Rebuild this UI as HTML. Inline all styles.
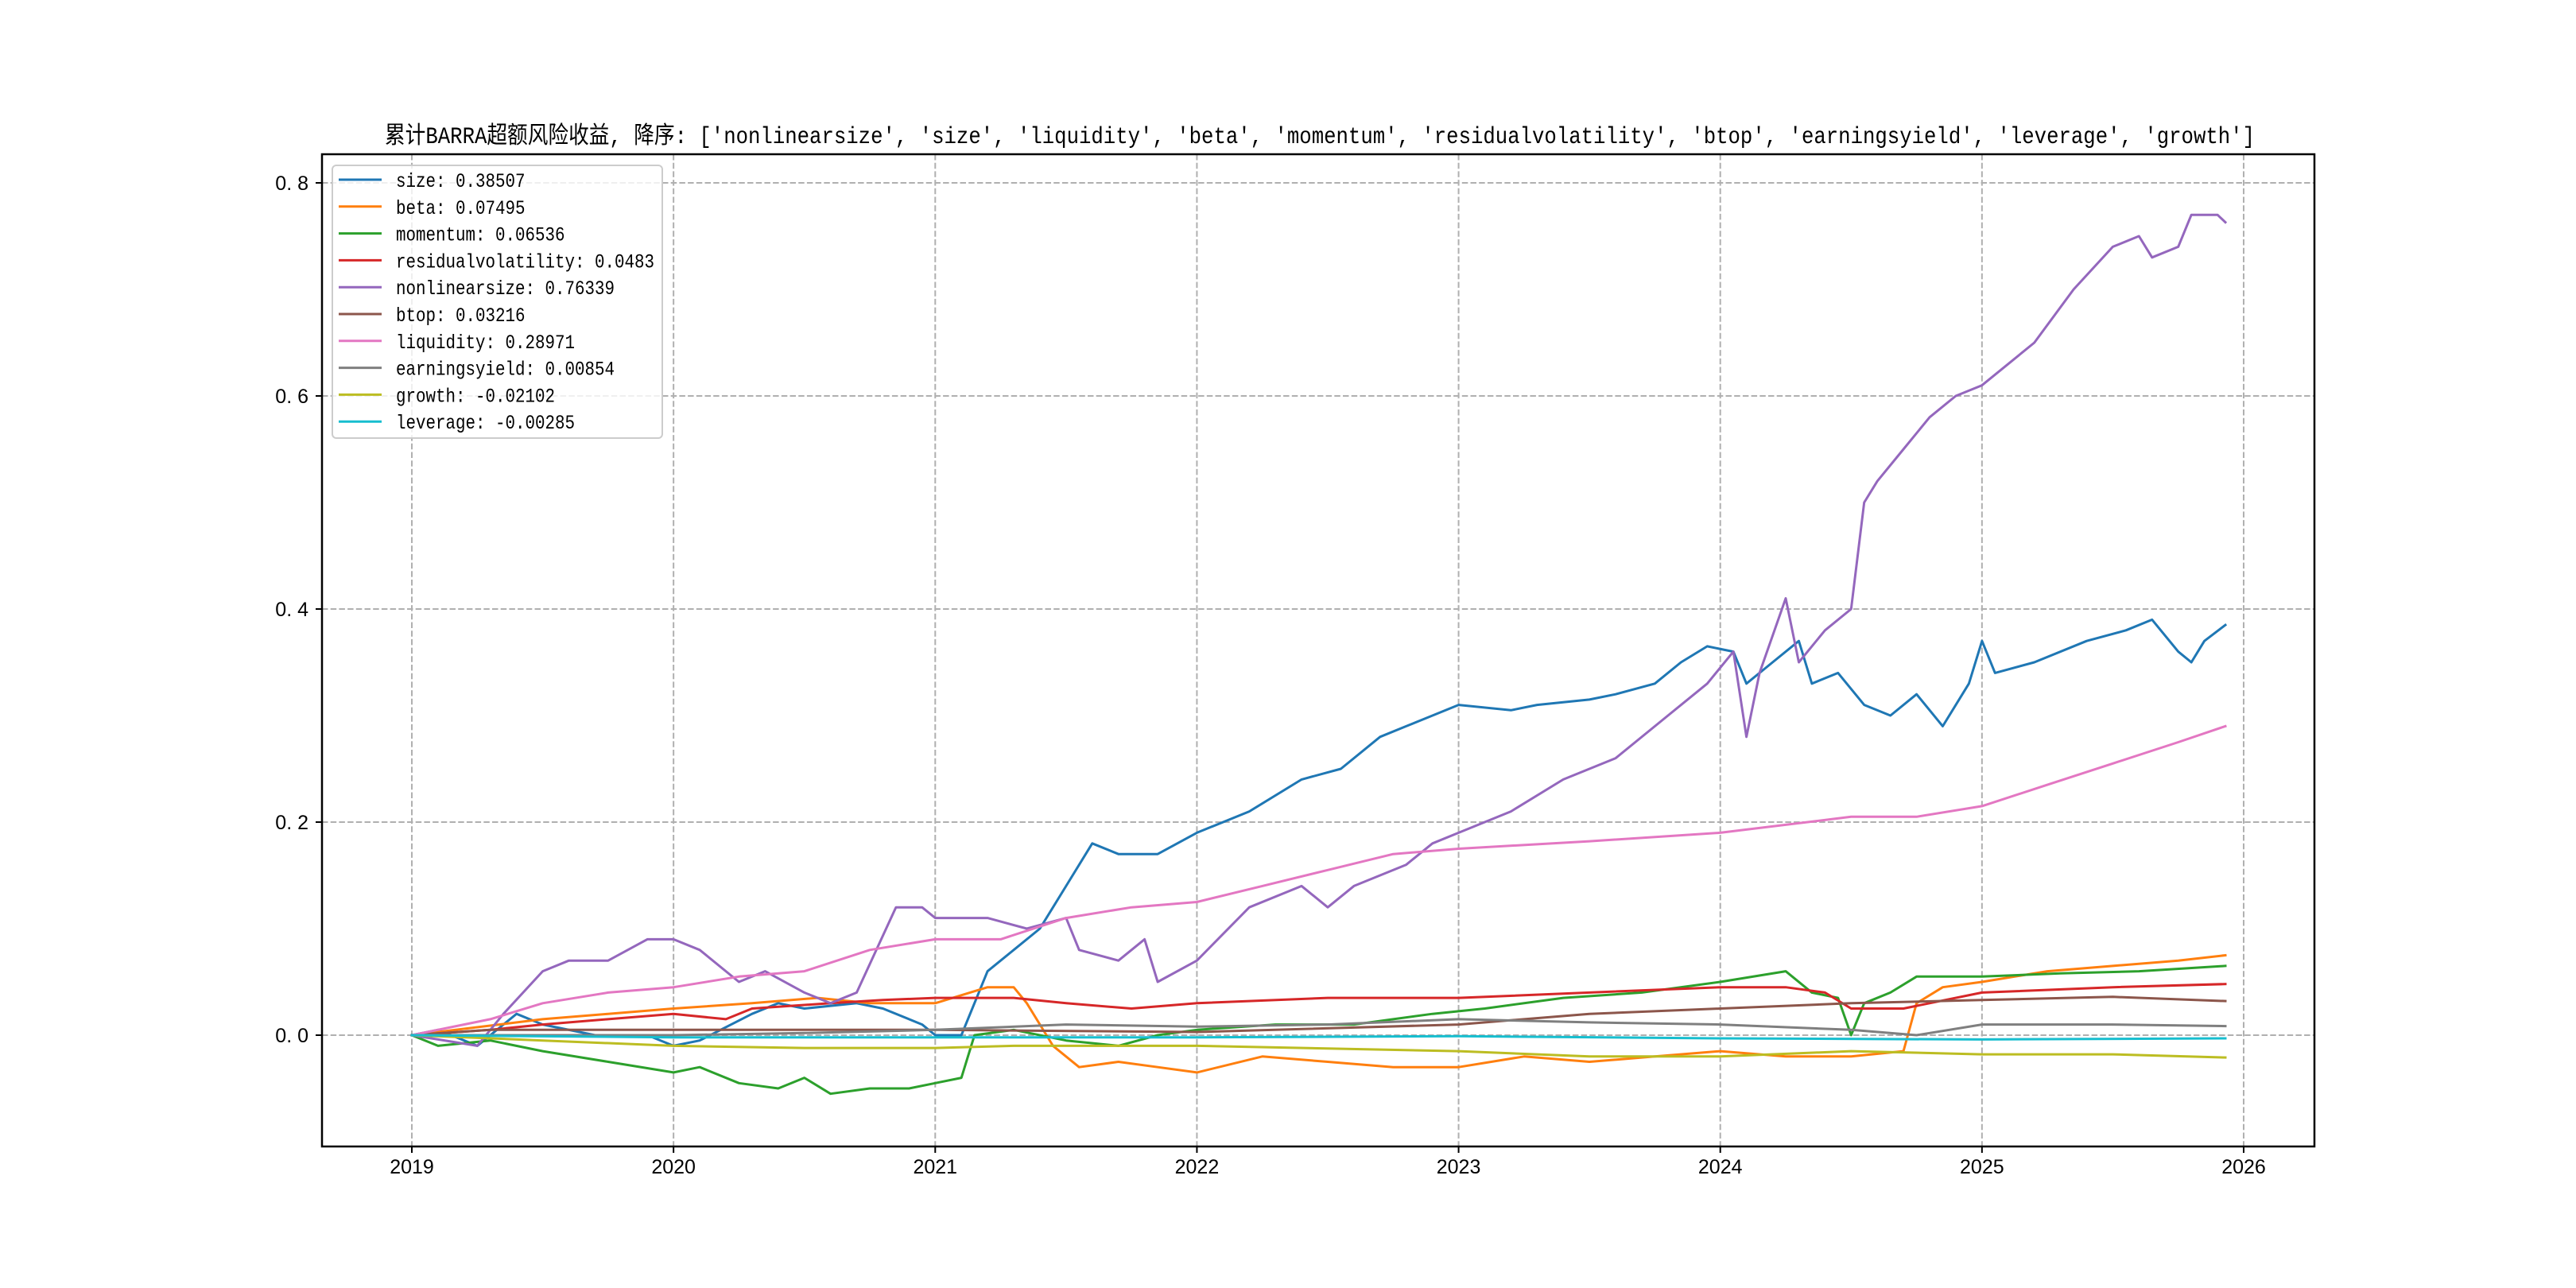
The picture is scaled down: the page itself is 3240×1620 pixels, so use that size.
<!DOCTYPE html>
<html><head><meta charset="utf-8">
<style>
html,body{margin:0;padding:0;background:#fff;}
svg{display:block;}
text{font-family:"Liberation Sans","WenQuanYi Zen Hei","Noto Sans CJK SC",sans-serif;}
</style></head>
<body>
<svg id="chart" width="3240" height="1620" viewBox="0 0 3240 1620" xmlns="http://www.w3.org/2000/svg">
<rect width="3240" height="1620" fill="#fff"/>
<text x="484" y="180" font-size="30" textLength="2352" lengthAdjust="spacingAndGlyphs" style="font-family:'Liberation Mono','WenQuanYi Zen Hei','Noto Sans CJK SC',monospace">累计BARRA超额风险收益,  降序: ['nonlinearsize', 'size', 'liquidity', 'beta', 'momentum', 'residualvolatility', 'btop', 'earningsyield', 'leverage', 'growth']</text>
<g id="grid"></g>
<g id="series"></g>
<rect x="405" y="194" width="2506" height="1248" fill="none" stroke="#000" stroke-width="2.5"/>
<g id="ticks"></g>
<g id="legend"></g>
</svg>
<script>
const seriesNames = ['size','beta','momentum','residualvolatility','nonlinearsize','btop','liquidity','earningsyield','growth','leverage'];
const legendValues = ['0.38507','0.07495','0.06536','0.0483','0.76339','0.03216','0.28971','0.00854','-0.02102','-0.00285'];
const colors = ['#1f77b4','#ff7f0e','#2ca02c','#d62728','#9467bd','#8c564b','#e377c2','#7f7f7f','#bcbd22','#17becf'];
const xTicks = [2019,2020,2021,2022,2023,2024,2025,2026];
const yTicks = [0.0,0.2,0.4,0.6,0.8];

const sizeT = [2019.0,2019.1,2019.25,2019.4,2019.5,2019.7,2019.9,2020.0,2020.1,2020.3,2020.4,2020.5,2020.7,2020.8,2020.95,2021.0,2021.1,2021.2,2021.3,2021.4,2021.5,2021.6,2021.7,2021.85,2022.0,2022.2,2022.4,2022.55,2022.7,2022.8,2022.9,2023.0,2023.2,2023.3,2023.5,2023.6,2023.75,2023.85,2023.95,2024.05,2024.1,2024.2,2024.3,2024.35,2024.45,2024.55,2024.65,2024.75,2024.85,2024.95,2025.0,2025.05,2025.2,2025.4,2025.55,2025.65,2025.75,2025.8,2025.85,2025.93];
const sizeV = [0,0.005,-0.01,0.02,0.01,0.0,0.0,-0.01,-0.005,0.02,0.03,0.025,0.03,0.025,0.01,0.0,0.0,0.06,0.08,0.1,0.14,0.18,0.17,0.17,0.19,0.21,0.24,0.25,0.28,0.29,0.30,0.31,0.305,0.31,0.315,0.32,0.33,0.35,0.365,0.36,0.33,0.35,0.37,0.33,0.34,0.31,0.30,0.32,0.29,0.33,0.37,0.34,0.35,0.37,0.38,0.39,0.36,0.35,0.37,0.385];
const betaT = [2019.0,2019.5,2019.75,2020.0,2020.3,2020.55,2020.75,2021.0,2021.2,2021.3,2021.35,2021.45,2021.55,2021.7,2021.85,2022.0,2022.25,2022.5,2022.75,2023.0,2023.25,2023.5,2023.75,2024.0,2024.25,2024.5,2024.7,2024.75,2024.85,2025.0,2025.25,2025.5,2025.75,2025.93];
const betaV = [0,0.015,0.02,0.025,0.03,0.035,0.03,0.03,0.045,0.045,0.03,-0.01,-0.03,-0.025,-0.03,-0.035,-0.02,-0.025,-0.03,-0.03,-0.02,-0.025,-0.02,-0.015,-0.02,-0.02,-0.015,0.03,0.045,0.05,0.06,0.065,0.07,0.075];
const momT = [2019.0,2019.1,2019.3,2019.5,2019.75,2020.0,2020.1,2020.25,2020.4,2020.5,2020.6,2020.75,2020.9,2021.0,2021.1,2021.15,2021.3,2021.5,2021.7,2021.85,2022.0,2022.3,2022.6,2022.9,2023.1,2023.4,2023.7,2024.0,2024.25,2024.35,2024.45,2024.5,2024.55,2024.65,2024.75,2025.0,2025.3,2025.6,2025.93];
const momV = [0,-0.01,-0.005,-0.015,-0.025,-0.035,-0.03,-0.045,-0.05,-0.04,-0.055,-0.05,-0.05,-0.045,-0.04,0.0,0.005,-0.005,-0.01,0.0,0.005,0.01,0.01,0.02,0.025,0.035,0.04,0.05,0.06,0.04,0.035,0.0,0.03,0.04,0.055,0.055,0.058,0.06,0.065];
const resT = [2019.0,2019.3,2019.5,2019.75,2020.0,2020.2,2020.3,2020.6,2020.8,2021.0,2021.3,2021.5,2021.75,2022.0,2022.5,2022.75,2023.0,2023.5,2024.0,2024.25,2024.4,2024.5,2024.7,2025.0,2025.5,2025.93];
const resV = [0,0.005,0.01,0.015,0.02,0.015,0.025,0.03,0.033,0.035,0.035,0.03,0.025,0.03,0.035,0.035,0.035,0.04,0.045,0.045,0.04,0.025,0.025,0.04,0.045,0.048];
const nlsT = [2019.0,2019.25,2019.35,2019.5,2019.6,2019.75,2019.9,2020.0,2020.1,2020.25,2020.35,2020.5,2020.6,2020.7,2020.85,2020.95,2021.0,2021.2,2021.35,2021.5,2021.55,2021.7,2021.8,2021.85,2022.0,2022.2,2022.4,2022.5,2022.6,2022.8,2022.9,2023.0,2023.2,2023.4,2023.6,2023.8,2023.95,2024.05,2024.1,2024.15,2024.25,2024.3,2024.4,2024.5,2024.55,2024.6,2024.7,2024.8,2024.9,2025.0,2025.1,2025.2,2025.35,2025.5,2025.6,2025.65,2025.75,2025.8,2025.9,2025.93];
const nlsV = [0,-0.01,0.02,0.06,0.07,0.07,0.09,0.09,0.08,0.05,0.06,0.04,0.03,0.04,0.12,0.12,0.11,0.11,0.10,0.11,0.08,0.07,0.09,0.05,0.07,0.12,0.14,0.12,0.14,0.16,0.18,0.19,0.21,0.24,0.26,0.30,0.33,0.36,0.28,0.34,0.41,0.35,0.38,0.40,0.50,0.52,0.55,0.58,0.60,0.61,0.63,0.65,0.70,0.74,0.75,0.73,0.74,0.77,0.77,0.763];
const btopT = [2019.0,2019.3,2020.0,2021.0,2022.0,2023.0,2023.5,2024.0,2024.5,2025.0,2025.5,2025.93];
const btopV = [0,0.005,0.005,0.005,0.003,0.01,0.02,0.025,0.03,0.033,0.036,0.032];
const liqT = [2019.0,2019.3,2019.5,2019.75,2020.0,2020.25,2020.5,2020.75,2021.0,2021.25,2021.5,2021.75,2022.0,2022.25,2022.5,2022.75,2023.0,2023.5,2024.0,2024.5,2024.75,2025.0,2025.25,2025.5,2025.75,2025.93];
const liqV = [0,0.015,0.03,0.04,0.045,0.055,0.06,0.08,0.09,0.09,0.11,0.12,0.125,0.14,0.155,0.17,0.175,0.182,0.19,0.205,0.205,0.215,0.235,0.255,0.275,0.29];
const eyT = [2019.0,2020.0,2020.5,2021.0,2021.5,2022.0,2022.5,2023.0,2023.5,2024.0,2024.5,2024.75,2025.0,2025.5,2025.93];
const eyV = [0,0.0,0.002,0.005,0.01,0.008,0.01,0.015,0.012,0.01,0.005,0.0,0.01,0.01,0.0085];
const grT = [2019.0,2019.5,2020.0,2020.5,2021.0,2021.3,2022.0,2023.0,2023.5,2024.0,2024.5,2025.0,2025.5,2025.93];
const grV = [0,-0.005,-0.01,-0.012,-0.012,-0.01,-0.01,-0.015,-0.02,-0.02,-0.015,-0.018,-0.018,-0.021];
const levT = [2019.0,2020.0,2021.0,2022.0,2023.0,2024.0,2025.0,2025.93];
const levV = [0,-0.002,-0.002,-0.002,-0.001,-0.003,-0.004,-0.003];

const seriesT = [sizeT,betaT,momT,resT,nlsT,btopT,liqT,eyT,grT,levT];
const seriesV = [sizeV,betaV,momV,resV,nlsV,btopV,liqV,eyV,grV,levV];

const NS='http://www.w3.org/2000/svg';
const L=405,R=2911,T=194,B=1442;
const X0=2019, X1=2026, px0=518, px1=2822;
const xs = v => px0 + (v - X0) * (px1 - px0) / (X1 - X0);
const ys = v => 1302 - v * 1340;
function mk(tag, attrs, parent){const e=document.createElementNS(NS,tag);for(const k in attrs)e.setAttribute(k,attrs[k]);parent.appendChild(e);return e;}

const grid=document.getElementById('grid'), ticks=document.getElementById('ticks');
xTicks.forEach(t=>{
  const x=xs(t);
  const g=mk('line',{x1:x,x2:x,y1:T,y2:B,stroke:'#b0b0b0','stroke-width':2,'stroke-dasharray':'7.5,3.2'},grid);
  
  
  const tk=mk('line',{x1:x,x2:x,y1:B,y2:B+8,stroke:'#000','stroke-width':2},ticks);
  
  
  const lb=mk('text',{x:x,y:1476,'font-size':25,'text-anchor':'middle'},ticks);
  lb.textContent=String(t);
  
  
});
yTicks.forEach(t=>{
  const y=ys(t);
  const g=mk('line',{x1:L,x2:R,y1:y,y2:y,stroke:'#b0b0b0','stroke-width':2,'stroke-dasharray':'7.5,3.2'},grid);
  
  
  const tk=mk('line',{x1:L-8,x2:L,y1:y,y2:y,stroke:'#000','stroke-width':2},ticks);
  
  
  const lb=mk('text',{x:388,y:y+9,'font-size':25,'text-anchor':'end'},ticks);
  lb.textContent=t.toFixed(1).replace('.', '. ');
  
  
});

const sg=document.getElementById('series');
seriesNames.forEach((n,i)=>{
  const d=seriesT[i].map((t,j)=>(j?'L':'M')+xs(t).toFixed(1)+','+ys(seriesV[i][j]).toFixed(1)).join(' ');
  const p=mk('path',{d:d,fill:'none',stroke:colors[i],'stroke-width':3,'stroke-linejoin':'round','stroke-linecap':'square'},sg);
  
  
});

const lg=document.getElementById('legend');
const fr=mk('rect',{x:418,y:208,width:415,height:343,rx:5,fill:'#fff','fill-opacity':0.8,stroke:'#cccccc','stroke-width':2},lg);


seriesNames.forEach((n,i)=>{
  const y=226+i*33.8;
  const ln=mk('line',{x1:426,x2:480,y1:y,y2:y,stroke:colors[i],'stroke-width':3},lg);
  
  
  const label=n+': '+legendValues[i];
  const tx=mk('text',{x:498,y:y+9,'font-size':25,textLength:(label.length*12.5).toFixed(1),lengthAdjust:'spacingAndGlyphs',style:"font-family:'Liberation Mono',monospace"},lg);
  tx.textContent=label;
  
  
});
</script>
</body></html>
